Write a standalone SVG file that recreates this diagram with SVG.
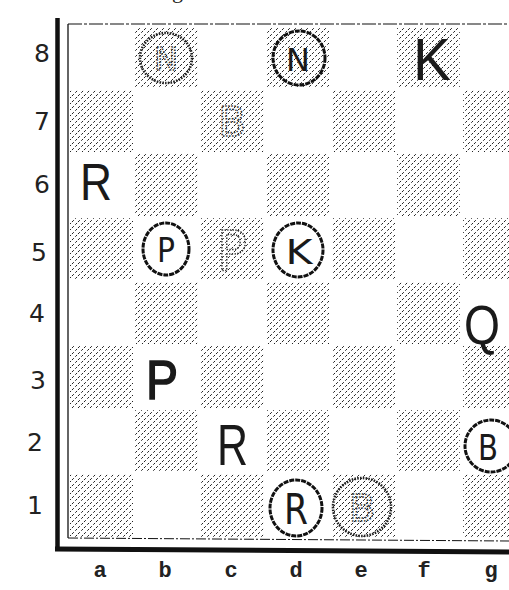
<svg xmlns="http://www.w3.org/2000/svg" width="509" height="590" viewBox="0 0 509 590">
<defs>
<pattern id="hatch" patternUnits="userSpaceOnUse" width="6" height="6">
<path d="M-1,1 L1,-1 M0,6 L6,0 M5,7 L7,5" stroke="#222" stroke-width="1" stroke-dasharray="2.6 2"/>
</pattern>
</defs>
<style>
.sq{fill:url(#hatch)}
.rank{font-family:"DejaVu Sans",sans-serif;font-size:25px;fill:#222;text-anchor:middle}
.file{font-family:"Liberation Mono",monospace;font-size:22px;font-weight:bold;fill:#222;text-anchor:middle}
.ring{fill:none;stroke:#111;stroke-width:3;stroke-dasharray:5 1}
.fring{fill:url(#hatch);stroke:#222;stroke-width:2.6;stroke-dasharray:1.6 1.2}
.pc{font-family:"DejaVu Sans",sans-serif;fill:#1a1a1a;text-anchor:middle}
.big{font-family:"Liberation Sans",sans-serif;fill:#1a1a1a}
.faint{font-family:"DejaVu Sans",sans-serif;fill:none;stroke:#333;stroke-width:1.6;stroke-dasharray:1.5 1.5;text-anchor:middle}
</style>
<rect width="509" height="590" fill="#fff"/>
<text x="172" y="-2" style="font-family:'Liberation Serif',serif;font-size:22px;fill:#222">g</text>

<g id="squares">
<rect class="sq" x="135" y="27" width="63" height="61"/>
<rect class="sq" x="266" y="27" width="63" height="61"/>
<rect class="sq" x="397" y="27" width="63" height="61"/>
<rect class="sq" x="70" y="90" width="63" height="62"/>
<rect class="sq" x="201" y="90" width="63" height="62"/>
<rect class="sq" x="332" y="90" width="63" height="62"/>
<rect class="sq" x="463" y="90" width="63" height="62"/>
<rect class="sq" x="135" y="154" width="63" height="62"/>
<rect class="sq" x="266" y="154" width="63" height="62"/>
<rect class="sq" x="397" y="154" width="63" height="62"/>
<rect class="sq" x="70" y="218" width="63" height="62"/>
<rect class="sq" x="201" y="218" width="63" height="62"/>
<rect class="sq" x="332" y="218" width="63" height="62"/>
<rect class="sq" x="463" y="218" width="63" height="62"/>
<rect class="sq" x="135" y="282" width="63" height="62"/>
<rect class="sq" x="266" y="282" width="63" height="62"/>
<rect class="sq" x="397" y="282" width="63" height="62"/>
<rect class="sq" x="70" y="346" width="63" height="62"/>
<rect class="sq" x="201" y="346" width="63" height="62"/>
<rect class="sq" x="332" y="346" width="63" height="62"/>
<rect class="sq" x="463" y="346" width="63" height="62"/>
<rect class="sq" x="135" y="410" width="63" height="62"/>
<rect class="sq" x="266" y="410" width="63" height="62"/>
<rect class="sq" x="397" y="410" width="63" height="62"/>
<rect class="sq" x="70" y="474" width="63" height="63"/>
<rect class="sq" x="201" y="474" width="63" height="63"/>
<rect class="sq" x="332" y="474" width="63" height="63"/>
<rect class="sq" x="463" y="474" width="63" height="63"/>
</g>

<g id="frame" fill="none" stroke="#111">
<line x1="57.5" y1="18" x2="57.5" y2="551" stroke-width="4.5"/>
<path d="M55,549 L509,552" stroke-width="5"/>
<line x1="68" y1="24" x2="68" y2="538" stroke-width="1.3"/>
<path d="M68,24 L509,24" stroke-width="1.2" stroke-dasharray="14 2 3 2"/>
<path d="M68,538 L509,541" stroke-width="1" stroke-dasharray="10 2 2 2"/>
</g>

<g id="ranks">
<text class="rank" x="42" y="62">8</text>
<text class="rank" x="42" y="130">7</text>
<text class="rank" x="42" y="193">6</text>
<text class="rank" x="39" y="261">5</text>
<text class="rank" x="37" y="322">4</text>
<text class="rank" x="38" y="389">3</text>
<text class="rank" x="35" y="451">2</text>
<text class="rank" x="35" y="514">1</text>
</g>
<g id="files">
<text class="file" x="100" y="577">a</text>
<text class="file" x="165" y="577">b</text>
<text class="file" x="231" y="577">c</text>
<text class="file" x="296" y="577">d</text>
<text class="file" x="361" y="577">e</text>
<text class="file" x="424" y="577">f</text>
<text class="file" x="491" y="577">g</text>
</g>

<g id="b8"><ellipse class="fring" cx="166" cy="58" rx="26" ry="25"/><text class="faint" x="166" y="70" font-size="32">N</text></g>
<g id="d8"><ellipse class="ring" cx="299" cy="58" rx="26" ry="27"/><text class="pc" x="298" y="71" font-size="32">N</text></g>
<g id="f8"><text class="big" x="413" y="80" font-size="60" textLength="38" lengthAdjust="spacingAndGlyphs">K</text></g>
<g id="c7"><text class="faint" x="232" y="136" font-size="40" stroke-width="2">B</text></g>
<g id="a6"><text class="big" x="80" y="200" font-size="52" textLength="32" lengthAdjust="spacingAndGlyphs">R</text></g>
<g id="b5"><ellipse class="ring" cx="166" cy="249" rx="23" ry="26"/><text class="pc" x="166" y="262" font-size="34" textLength="18" lengthAdjust="spacingAndGlyphs">P</text></g>
<g id="c5"><text class="faint" x="232" y="270" font-size="56" textLength="30" lengthAdjust="spacingAndGlyphs" stroke-width="2.2">P</text></g>
<g id="d5"><ellipse class="ring" cx="298" cy="250" rx="25" ry="27"/><text class="pc" x="299" y="264" font-size="34" textLength="27" lengthAdjust="spacingAndGlyphs">K</text></g>
<g id="g4"><text class="big" x="464" y="344" font-size="56" textLength="36" lengthAdjust="spacingAndGlyphs">Q</text></g>
<g id="b3"><text class="big" x="146" y="399" font-size="56" textLength="32" lengthAdjust="spacingAndGlyphs" stroke="#1a1a1a" stroke-width="1.5">P</text></g>
<g id="c2"><text class="big" x="217" y="465" font-size="58" textLength="31" lengthAdjust="spacingAndGlyphs">R</text></g>
<g id="g2"><ellipse class="ring" cx="491" cy="446" rx="26" ry="26"/><text class="pc" x="488" y="460" font-size="36" textLength="20" lengthAdjust="spacingAndGlyphs">B</text></g>
<g id="d1"><ellipse class="ring" cx="296" cy="508" rx="26" ry="28"/><text class="pc" x="296" y="524" font-size="42" textLength="24" lengthAdjust="spacingAndGlyphs">R</text></g>
<g id="e1"><ellipse class="fring" cx="362" cy="507" rx="29" ry="29" stroke-width="3.2"/><text class="faint" x="362" y="521" font-size="38">B</text></g>
</svg>
